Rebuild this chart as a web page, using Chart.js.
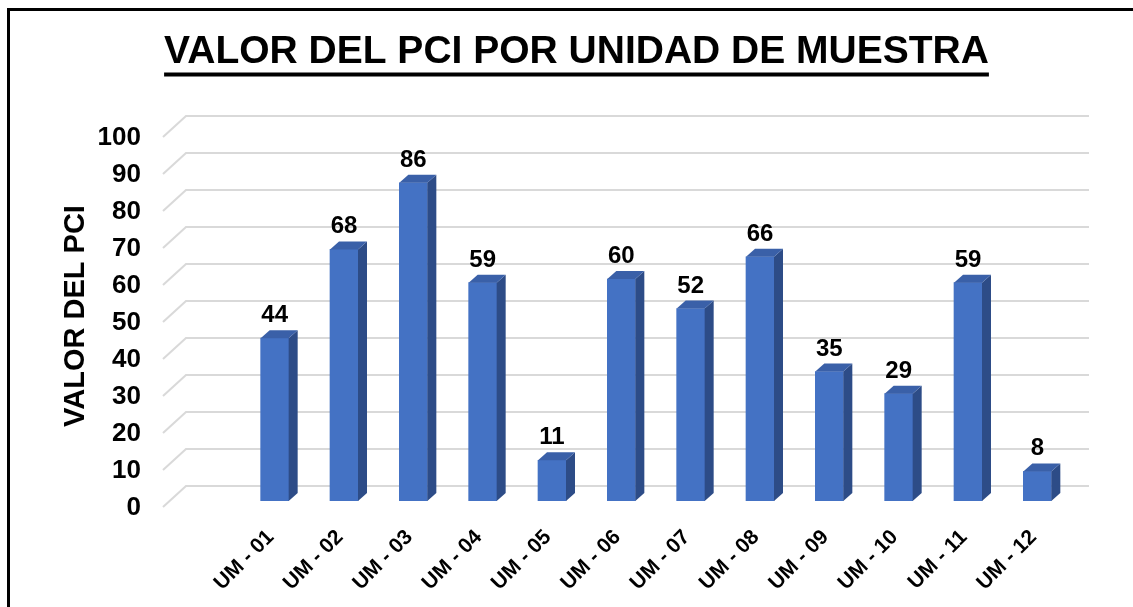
<!DOCTYPE html>
<html><head><meta charset="utf-8">
<script src="https://cdn.jsdelivr.net/npm/chart.js@4.4.1/dist/chart.umd.min.js"></script>
<style>html,body{margin:0;padding:0;background:#fff;overflow:hidden}canvas{display:block}</style>
</head><body>
<canvas id="c" width="1133" height="607"></canvas>
<script>
const categories = ['UM - 01','UM - 02','UM - 03','UM - 04','UM - 05','UM - 06','UM - 07','UM - 08','UM - 09','UM - 10','UM - 11','UM - 12'];
const pciValues = [44, 68, 86, 59, 11, 60, 52, 66, 35, 29, 59, 8];
const yTicks = [0, 10, 20, 30, 40, 50, 60, 70, 80, 90, 100];
const chartTitle = 'VALOR DEL PCI POR UNIDAD DE MUESTRA';
const yAxisTitle = 'VALOR DEL PCI';

const FONT = "'Liberation Sans', Arial, sans-serif";
const FRONT = '#4472C4', SIDE = '#2D4C87', TOP = '#3A60A8', GRID = '#D9D9D9';
const DEPTH = {dx: 9, dy: -8};
const WALL = {frontDx: -77, backDx: -54, rightDx: 17, frontDy: 6, backDy: -15};
const TITLE_SIZE = 39, TITLE_PAD_TOP = 29;

const frame3d = {
  id: 'frame3d',
  beforeDraw(chart) {
    const ctx = chart.ctx;
    ctx.save();
    ctx.fillStyle = '#fff';
    ctx.fillRect(0, 0, chart.width, chart.height);
    ctx.strokeStyle = '#000';
    ctx.lineWidth = 3;
    ctx.beginPath();
    ctx.moveTo(8.5, chart.height);
    ctx.lineTo(8.5, 9.5);
    ctx.lineTo(chart.width, 9.5);
    ctx.stroke();
    ctx.restore();
  },
  beforeDatasetsDraw(chart) {
    const {ctx, chartArea: a, scales: {y}} = chart;
    ctx.save();
    ctx.strokeStyle = GRID;
    ctx.lineWidth = 2;
    yTicks.forEach(v => {
      const py = y.getPixelForValue(v);
      ctx.beginPath();
      ctx.moveTo(a.left + WALL.frontDx, py + WALL.frontDy);
      ctx.lineTo(a.left + WALL.backDx, py + WALL.backDy);
      ctx.lineTo(a.right + WALL.rightDx, py + WALL.backDy);
      ctx.stroke();
    });
    ctx.restore();
  },
  afterDatasetsDraw(chart) {
    const ctx = chart.ctx;
    const meta = chart.getDatasetMeta(0);
    ctx.save();
    meta.data.forEach((bar, i) => {
      const {x, y, width, base} = bar.getProps(['x', 'y', 'width', 'base'], true);
      const l = x - width / 2, r = x + width / 2;
      ctx.fillStyle = SIDE;
      ctx.beginPath();
      ctx.moveTo(r, y); ctx.lineTo(r + DEPTH.dx, y + DEPTH.dy);
      ctx.lineTo(r + DEPTH.dx, base + DEPTH.dy); ctx.lineTo(r, base);
      ctx.closePath(); ctx.fill();
      ctx.fillStyle = TOP;
      ctx.beginPath();
      ctx.moveTo(l, y); ctx.lineTo(l + DEPTH.dx, y + DEPTH.dy);
      ctx.lineTo(r + DEPTH.dx, y + DEPTH.dy); ctx.lineTo(r, y);
      ctx.closePath(); ctx.fill();
      ctx.fillStyle = '#000';
      ctx.font = 'bold 24px ' + FONT;
      ctx.textAlign = 'center';
      ctx.textBaseline = 'alphabetic';
      ctx.fillText(String(pciValues[i]), x, y - 16);
    });
    ctx.restore();
  },
  afterDraw(chart) {
    const tb = chart.titleBlock;
    if (!tb) return;
    const ctx = chart.ctx;
    ctx.save();
    ctx.font = 'bold ' + TITLE_SIZE + 'px ' + FONT;
    const w = ctx.measureText(chartTitle).width;
    const cx = (tb.left + tb.right) / 2;
    const yLine = tb.top + TITLE_PAD_TOP + TITLE_SIZE * 0.6 + 22;
    ctx.strokeStyle = '#000';
    ctx.lineWidth = 4;
    ctx.beginPath();
    ctx.moveTo(cx - w / 2, yLine);
    ctx.lineTo(cx + w / 2, yLine);
    ctx.stroke();
    ctx.restore();
  }
};

new Chart(document.getElementById('c'), {
  type: 'bar',
  data: {
    labels: categories,
    datasets: [{
      data: pciValues,
      backgroundColor: FRONT,
      borderWidth: 0,
      barThickness: 28
    }]
  },
  options: {
    responsive: false,
    animation: false,
    devicePixelRatio: 1,
    layout: {padding: {left: 20, right: 0, top: 0, bottom: 0}},
    plugins: {
      legend: {display: false},
      tooltip: {enabled: false},
      title: {
        display: true,
        text: chartTitle,
        color: '#000',
        font: {family: FONT, size: TITLE_SIZE, weight: 'bold'},
        padding: {top: TITLE_PAD_TOP, bottom: 55.2}
      }
    },
    scales: {
      x: {
        grid: {display: false, drawTicks: false},
        border: {display: false},
        ticks: {
          color: '#000',
          font: {family: FONT, size: 21, weight: 'bold'},
          minRotation: 45, maxRotation: 45,
          autoSkip: false,
          padding: 24,
          labelOffset: -4
        },
        afterFit(s) { s.height = 106; }
      },
      y: {
        min: yTicks[0],
        max: yTicks[yTicks.length - 1],
        grid: {display: false, drawTicks: true, tickLength: 95},
        border: {display: false},
        ticks: {
          stepSize: 10,
          color: '#000',
          font: {family: FONT, size: 26, weight: 'bold'},
          padding: 4,
          labelOffset: 7
        },
        title: {
          display: true,
          text: yAxisTitle,
          color: '#000',
          font: {family: FONT, size: 29, weight: 'bold'},
          padding: {top: 39, bottom: 0}
        },
        afterFit(s) { s.width = 220; }
      },
      yR: {
        position: 'right',
        display: true,
        grid: {display: false, drawTicks: false},
        border: {display: false},
        ticks: {display: false},
        afterFit(s) { s.width = 61; }
      }
    }
  },
  plugins: [frame3d]
});
</script>
</body></html>
